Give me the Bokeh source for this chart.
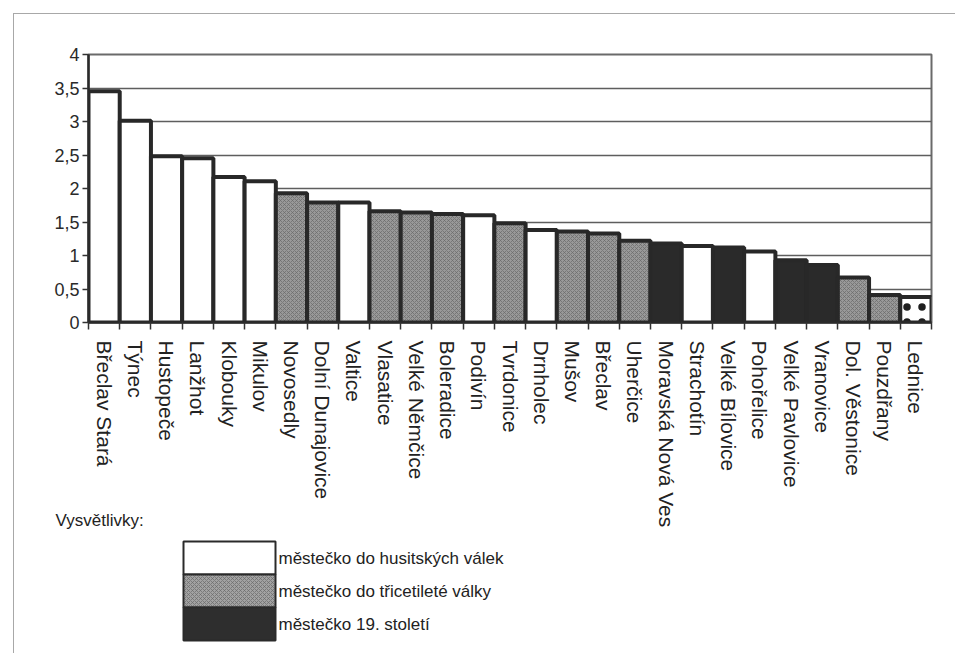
import math
from bokeh.plotting import figure
from bokeh.models import (Range1d, LinearAxis, FixedTicker, ColumnDataSource,
                          CustomJSTickFormatter, Title)
from bokeh.layouts import column
from bokeh.core.properties import value
from bokeh.embed import file_html
from bokeh.resources import INLINE

# ---- data -------------------------------------------------------------
cities = ["Břeclav Stará", "Týnec", "Hustopeče", "Lanžhot", "Klobouky", "Mikulov",
          "Novosedly", "Dolní Dunajovice", "Valtice", "Vlasatice", "Velké Němčice",
          "Boleradice", "Podivín", "Tvrdonice", "Drnholec", "Mušov", "Břeclav",
          "Uherčice", "Moravská Nová Ves", "Strachotín", "Velké Bílovice", "Pohořelice",
          "Velké Pavlovice", "Vranovice", "Dol. Věstonice", "Pouzdřany", "Lednice"]
values = [3.45, 3.01, 2.48, 2.45, 2.17, 2.11, 1.93, 1.79, 1.79, 1.66, 1.64, 1.62, 1.60,
          1.48, 1.38, 1.36, 1.33, 1.22, 1.18, 1.14, 1.12, 1.06, 0.93, 0.86, 0.67, 0.41, 0.38]
# 0 = do husitských válek, 1 = do třicetileté války, 2 = 19. století, 3 = jiné
periods = [0, 0, 0, 0, 0, 0, 1, 1, 0, 1, 1, 1, 0, 1, 0, 1, 1, 1, 2, 0, 2, 0, 2, 2, 1, 1, 3]
legend_title = "Vysvětlivky:"
legend_labels = ["městečko do husitských válek", "městečko do třicetileté války",
                 "městečko 19. století"]
y_ticks = [0, 0.5, 1, 1.5, 2, 2.5, 3, 3.5, 4]

# ---- styles -----------------------------------------------------------
FONT = "Liberation Sans"
BG = "#ffffff"
fills = ["#ffffff", "#999999", "#2a2a2a", "#ffffff"]
hatches = [" ", "x", " ", "."]
hatch_cols = ["#000000", "#6a6a6a", "#000000", "#1e1e1e"]
hatch_scales = [4, 4, 4, 15]
hatch_weights = [0.6, 0.7, 0.6, 6]

n = len(cities)
idx = list(range(n))
src = ColumnDataSource(dict(
    pos=idx, city=cities, val=values,
    fill=[fills[k] for k in periods],
    hatch=[hatches[k] for k in periods],
    hcol=[hatch_cols[k] for k in periods],
    hscale=[hatch_scales[k] for k in periods],
    hweight=[hatch_weights[k] for k in periods],
))

p = figure(x_range=Range1d(-0.5, n - 0.5), y_range=Range1d(0, 4),
           frame_width=843, frame_height=268, output_backend="svg", toolbar_location=None,
           x_axis_location=None,
           min_border_left=74, min_border_right=24, min_border_top=40, min_border_bottom=218,
           background_fill_color=BG, border_fill_color=BG)

p.vbar(x="pos", top="val", width=1.0, source=src,
       fill_color="fill", line_color="#282828", line_width=4,
       hatch_pattern="hatch", hatch_color="hcol", hatch_scale="hscale",
       hatch_weight="hweight")

p.xgrid.visible = False
p.ygrid.ticker = FixedTicker(ticks=y_ticks)
p.ygrid.grid_line_color = "#5e5e5e"
p.ygrid.grid_line_width = 1.4
p.outline_line_color = "#6a6a6a"
p.outline_line_width = 2

ya = p.yaxis[0]
ya.ticker = FixedTicker(ticks=y_ticks)
ya.formatter = CustomJSTickFormatter(code="return String(tick).replace('.', ',');")
ya.major_label_text_font = FONT
ya.major_label_text_font_size = "18px"
ya.major_label_text_color = "#2a2a2a"
ya.major_label_standoff = 3
ya.major_tick_in = 0
ya.major_tick_out = 6
ya.major_tick_line_color = "#333333"
ya.major_tick_line_width = 1.5
ya.minor_tick_line_color = None
ya.axis_line_color = "#2a2a2a"
ya.axis_line_width = 2.5

# category names at the bar centres, tick marks at the category boundaries
x_axis = LinearAxis(ticker=FixedTicker(ticks=idx, minor_ticks=[i - 0.5 for i in range(n + 1)]),
                    major_label_overrides={i: c for i, c in zip(idx, cities)},
                    major_label_orientation=-math.pi / 2,
                    major_label_text_font=FONT,
                    major_label_text_font_size="21px",
                    major_label_text_color="#222222",
                    major_label_standoff=11,
                    major_tick_line_color=None, major_tick_in=0, major_tick_out=0,
                    minor_tick_line_color="#333333", minor_tick_line_width=1.5,
                    minor_tick_in=0, minor_tick_out=7,
                    axis_line_color="#2a2a2a", axis_line_width=2.5)
p.add_layout(x_axis, "below")

# ---- legend panel (overlaps the bottom of the chart) ------------------
leg = figure(x_range=Range1d(0, 843), y_range=Range1d(0, 124),
             frame_width=843, frame_height=124,
             output_backend="svg", toolbar_location=None,
             x_axis_location=None, y_axis_location=None,
             min_border_left=74, min_border_right=24, min_border_top=0, min_border_bottom=0,
             background_fill_alpha=0, border_fill_alpha=0,
             styles={"margin-top": "-32px"})
leg.grid.visible = False
leg.outline_line_color = None
leg.add_layout(Title(text=legend_title, align="left", offset=-33, standoff=0,
                     text_font=FONT, text_font_size="17px", text_font_style="normal",
                     text_color="#222222"), "above")

box_top = [112, 79, 46]
box_bot = [79, 46, 13]
leg.quad(left=[95] * 3, right=[187] * 3, top=box_top, bottom=box_bot,
         fill_color=["#ffffff", "#a2a2a2", "#2e2e2e"], line_color="#2a2a2a", line_width=2,
         hatch_pattern=hatches[:3], hatch_color=hatch_cols[:3], hatch_scale=4,
         hatch_weight=0.7)
leg.text(x=[190] * 3, y=[(a + b) / 2 for a, b in zip(box_top, box_bot)], text=legend_labels,
         text_font=value(FONT), text_font_size="17px", text_color="#222222",
         text_baseline="middle", text_align="left")

layout = column(p, leg, spacing=0, background=BG,
                styles={"margin-left": "13px", "margin-top": "13px",
                        "border-top": "1px solid #a8a8a8",
                        "border-left": "1px solid #a8a8a8"})

open("out.html", "w").write(file_html(layout, INLINE))
